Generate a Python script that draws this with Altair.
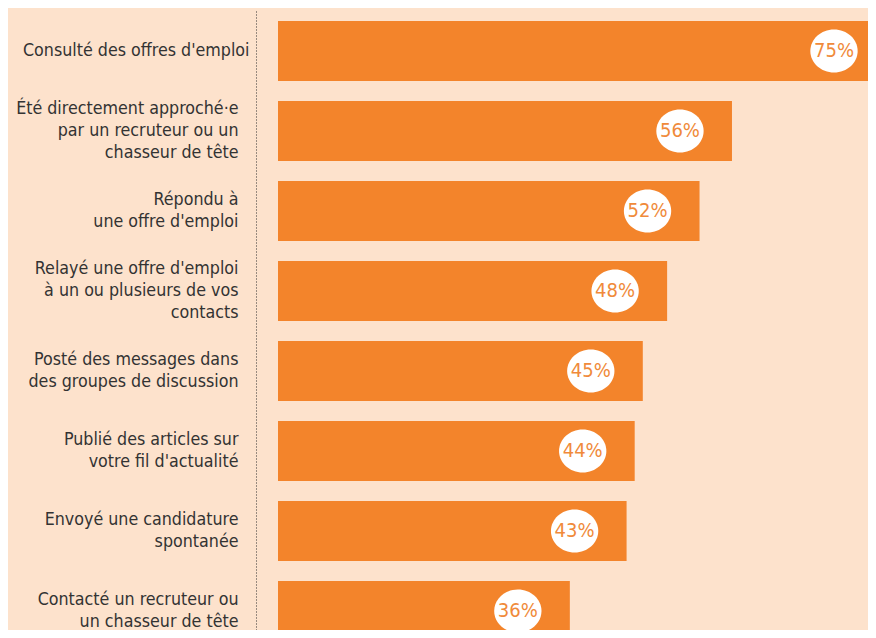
import altair as alt
import pandas as pd

categories = [
    "Consulté des offres d'emploi",
    "Été directement approché·e|par un recruteur ou un|chasseur de tête",
    "Répondu à|une offre d'emploi",
    "Relayé une offre d'emploi|à un ou plusieurs de vos|contacts",
    "Posté des messages dans|des groupes de discussion",
    "Publié des articles sur|votre fil d'actualité",
    "Envoyé une candidature|spontanée",
    "Contacté un recruteur ou|un chasseur de tête",
]
values = [75, 56, 52, 48, 45, 44, 43, 36]
value_labels = ["75%", "56%", "52%", "48%", "45%", "44%", "43%", "36%"]

df = pd.DataFrame({"cat": categories, "val": values, "lab": value_labels})

BG = "#fde2cc"
ORANGE = "#f3842b"
FONT = "DejaVu Sans Condensed, Liberation Sans Narrow, sans-serif"

y_enc = alt.Y(
    "cat:N",
    sort=None,
    title=None,
    scale=alt.Scale(range=[0, 640], paddingInner=0.25, paddingOuter=0.125),
    axis=alt.Axis(
        labelExpr="split(datum.label, '|')",
        labelFont=FONT,
        labelFontSize=17.7,
        labelLineHeight=22,
        labelColor="#333333",
        labelLimit=400,
        labelPadding=alt.ExprRef("indexof(datum.value, 'Consult') === 0 ? 7 : 18"),
        labelOffset=alt.ExprRef("-(length(split(datum.value, '|')) - 1) * 11"),
        ticks=False,
        tickSize=0,
        domain=True,
        domainColor="#333333",
        domainDash=[1, 2],
        domainWidth=1,
        offset=22,
        grid=False,
    ),
)
x_scale = alt.Scale(domain=[0, 72.78], nice=False, zero=True)

base = alt.Chart(df)

bars = base.mark_bar(color=ORANGE, clip=True).encode(
    y=y_enc,
    x=alt.X("val:Q", scale=x_scale, axis=None),
)

ellipse = "M-1.1,0 A1.1,1 0 1,0 1.1,0 A1.1,1 0 1,0 -1.1,0 Z"
bubbles = base.mark_point(
    shape=ellipse, filled=True, color="white", opacity=1, size=1850, xOffset=-52, strokeWidth=0
).encode(
    y=alt.Y("cat:N", sort=None),
    x=alt.X("val:Q", scale=x_scale),
)

texts = base.mark_text(
    dx=-52, align="center", baseline="middle", font=FONT, fontSize=20, color="#f08a3a"
).encode(
    y=alt.Y("cat:N", sort=None),
    x=alt.X("val:Q", scale=x_scale),
    text="lab:N",
)

chart = (
    alt.layer(bars, bubbles, texts)
    .properties(
        width=590,
        height=619,
        background=BG,
        padding={"left": 270, "top": 3, "right": 0, "bottom": 0},
        autosize=alt.AutoSizeParams(type="none"),
    )
    .configure_view(stroke=None)
)

chart.save("out.html", embed_options={"renderer": "svg", "actions": False})
